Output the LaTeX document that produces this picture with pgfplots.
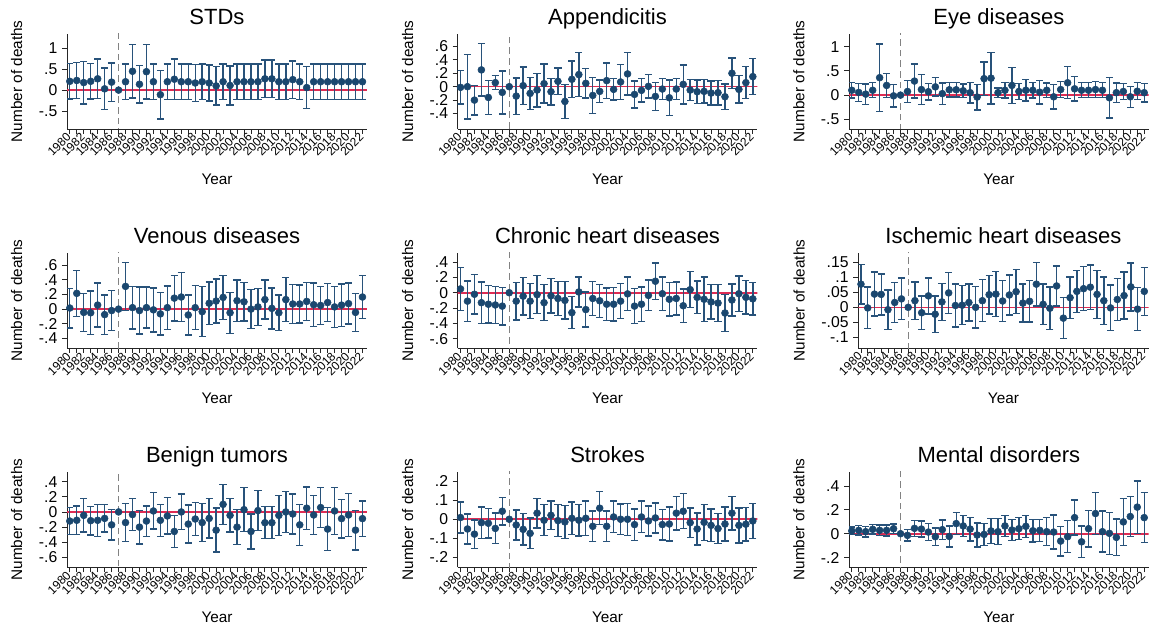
\documentclass[border=0pt]{standalone}
\usepackage{fontspec}
\setmainfont{Liberation Sans}
\usepackage{pgfplots}
\usepackage{pgfplotstable}
\pgfplotsset{compat=1.18}

\definecolor{ptnavy}{RGB}{26,71,111}
\definecolor{barnavy}{RGB}{40,82,122}
\definecolor{zeroline}{RGB}{222,44,84}
\definecolor{refgray}{RGB}{130,130,130}

% year, point estimate, half-width of the 95% CI (1987 is the base year)
\pgfplotstableread{
year est err
1980 0.21 0.42
1981 0.23 0.43
1982 0.18 0.51
1983 0.21 0.42
1984 0.27 0.47
1985 0.03 0.50
1986 0.19 0.46
1987 0 0
1988 0.20 0.42
1989 0.45 0.64
1990 0.14 0.45
1991 0.44 0.65
1992 0.20 0.42
1993 -0.11 0.58
1994 0.20 0.42
1995 0.26 0.48
1996 0.20 0.42
1997 0.20 0.42
1998 0.17 0.44
1999 0.20 0.42
2000 0.17 0.43
2001 0.10 0.46
2002 0.20 0.42
2003 0.11 0.47
2004 0.20 0.42
2005 0.20 0.42
2006 0.20 0.42
2007 0.20 0.42
2008 0.27 0.45
2009 0.27 0.45
2010 0.20 0.42
2011 0.20 0.42
2012 0.25 0.45
2013 0.20 0.42
2014 0.06 0.50
2015 0.20 0.42
2016 0.20 0.42
2017 0.20 0.42
2018 0.20 0.42
2019 0.20 0.42
2020 0.20 0.42
2021 0.20 0.42
2022 0.20 0.42
}\stds

\pgfplotstableread{
year est err
1980 -0.01 0.25
1981 0.00 0.48
1982 -0.20 0.22
1983 0.25 0.39
1984 -0.16 0.25
1985 0.06 0.105
1986 -0.085 0.32
1987 0 0
1988 -0.14 0.27
1989 0.015 0.28
1990 -0.10 0.24
1991 -0.05 0.25
1992 0.045 0.29
1993 -0.075 0.20
1994 0.08 0.20
1995 -0.22 0.25
1996 0.11 0.27
1997 0.18 0.33
1998 0.05 0.22
1999 -0.13 0.27
2000 -0.07 0.17
2001 0.09 0.265
2002 -0.04 0.16
2003 0.07 0.26
2004 0.19 0.315
2005 -0.115 0.20
2006 -0.055 0.175
2007 0.005 0.175
2008 -0.145 0.21
2009 -0.035 0.155
2010 -0.165 0.265
2011 -0.035 0.155
2012 0.035 0.29
2013 -0.05 0.155
2014 -0.075 0.175
2015 -0.07 0.175
2016 -0.095 0.18
2017 -0.09 0.18
2018 -0.15 0.19
2019 0.20 0.23
2020 -0.04 0.205
2021 0.06 0.24
2022 0.15 0.27
}\appendicitis

\pgfplotstableread{
year est err
1980 0.10 0.16
1981 0.055 0.185
1982 0.02 0.21
1983 0.10 0.155
1984 0.36 0.70
1985 0.20 0.25
1986 -0.015 0.23
1987 0 0
1988 0.075 0.23
1989 0.29 0.35
1990 0.115 0.31
1991 0.07 0.17
1992 0.17 0.19
1993 0.03 0.22
1994 0.11 0.15
1995 0.11 0.15
1996 0.09 0.14
1997 0.05 0.215
1998 -0.04 0.265
1999 0.34 0.345
2000 0.35 0.535
2001 0.05 0.095
2002 0.10 0.16
2003 0.20 0.37
2004 0.075 0.16
2005 0.10 0.22
2006 0.10 0.16
2007 0.06 0.24
2008 0.10 0.15
2009 -0.035 0.25
2010 0.115 0.165
2011 0.255 0.33
2012 0.13 0.25
2013 0.10 0.155
2014 0.10 0.155
2015 0.115 0.17
2016 0.10 0.155
2017 -0.055 0.415
2018 0.05 0.20
2019 0.075 0.165
2020 -0.035 0.215
2021 0.08 0.175
2022 0.05 0.19
}\eye

\pgfplotstableread{
year est err
1980 0.015 0.27
1981 0.215 0.315
1982 -0.045 0.26
1983 -0.05 0.295
1984 0.055 0.30
1985 -0.075 0.27
1986 -0.02 0.27
1987 0 0
1988 0.31 0.325
1989 0.02 0.29
1990 -0.02 0.32
1991 0.02 0.28
1992 -0.01 0.30
1993 -0.065 0.29
1994 0.02 0.295
1995 0.15 0.31
1996 0.165 0.335
1997 -0.08 0.275
1998 0.02 0.30
1999 -0.035 0.34
2000 0.08 0.29
2001 0.11 0.30
2002 0.16 0.30
2003 -0.05 0.28
2004 0.115 0.285
2005 0.10 0.26
2006 0.00 0.265
2007 0.03 0.25
2008 0.13 0.265
2009 0.01 0.28
2010 -0.05 0.245
2011 0.13 0.30
2012 0.07 0.27
2013 0.07 0.26
2014 0.105 0.26
2015 0.06 0.295
2016 0.05 0.26
2017 0.09 0.26
2018 0.03 0.28
2019 0.055 0.29
2020 0.075 0.28
2021 -0.045 0.26
2022 0.165 0.29
}\venous

\pgfplotstableread{
year est err
1980 0.05 0.28
1981 -0.11 0.265
1982 -0.02 0.26
1983 -0.13 0.27
1984 -0.15 0.245
1985 -0.16 0.245
1986 -0.175 0.245
1987 0 0
1988 -0.11 0.245
1989 -0.045 0.245
1990 -0.11 0.23
1991 -0.025 0.25
1992 -0.13 0.235
1993 -0.04 0.225
1994 -0.075 0.22
1995 -0.10 0.245
1996 -0.26 0.21
1997 0.01 0.195
1998 -0.22 0.23
1999 -0.075 0.225
2000 -0.105 0.215
2001 -0.15 0.21
2002 -0.15 0.22
2003 -0.11 0.23
2004 -0.015 0.22
2005 -0.175 0.23
2006 -0.15 0.225
2007 -0.035 0.20
2008 0.15 0.24
2009 -0.013 0.22
2010 -0.085 0.22
2011 -0.075 0.215
2012 -0.17 0.22
2013 0.04 0.235
2014 -0.06 0.215
2015 -0.085 0.29
2016 -0.12 0.225
2017 -0.135 0.24
2018 -0.265 0.24
2019 -0.095 0.21
2020 -0.013 0.23
2021 -0.06 0.22
2022 -0.08 0.21
}\chronic

\pgfplotstableread{
year est err
1980 0.077 0.066
1981 -0.002 0.069
1982 0.044 0.073
1983 0.043 0.068
1984 -0.008 0.065
1985 0.016 0.067
1986 0.028 0.069
1987 0 0
1988 0.022 0.062
1989 -0.018 0.055
1990 0.038 0.060
1991 -0.023 0.060
1992 0.018 0.061
1993 0.048 0.068
1994 0.006 0.071
1995 0.007 0.065
1996 0.016 0.062
1997 0.000 0.069
1998 0.022 0.070
1999 0.042 0.064
2000 0.044 0.075
2001 0.021 0.068
2002 0.041 0.067
2003 0.052 0.073
2004 0.014 0.063
2005 0.020 0.069
2006 0.077 0.072
2007 0.010 0.068
2008 -0.003 0.070
2009 0.071 0.066
2010 -0.036 0.068
2011 0.032 0.069
2012 0.053 0.070
2013 0.062 0.073
2014 0.067 0.074
2015 0.043 0.080
2016 0.022 0.079
2017 -0.002 0.076
2018 0.026 0.070
2019 0.039 0.078
2020 0.068 0.080
2021 -0.006 0.072
2022 0.053 0.080
}\ischemic

\pgfplotstableread{
year est err
1980 -0.12 0.18
1981 -0.11 0.19
1982 -0.045 0.22
1983 -0.115 0.19
1984 -0.11 0.21
1985 -0.085 0.18
1986 -0.17 0.20
1987 0 0
1988 -0.14 0.25
1989 -0.035 0.21
1990 -0.20 0.22
1991 -0.12 0.20
1992 0.013 0.24
1993 -0.11 0.21
1994 -0.053 0.24
1995 -0.257 0.21
1996 0.00 0.235
1997 -0.16 0.25
1998 -0.093 0.215
1999 -0.14 0.25
2000 -0.085 0.26
2001 -0.24 0.29
2002 0.10 0.265
2003 -0.045 0.22
2004 -0.20 0.23
2005 0.03 0.29
2006 -0.257 0.23
2007 0.018 0.265
2008 -0.142 0.21
2009 -0.142 0.21
2010 -0.045 0.265
2011 0.00 0.27
2012 -0.027 0.265
2013 -0.17 0.27
2014 0.05 0.28
2015 -0.04 0.26
2016 0.058 0.265
2017 -0.226 0.285
2018 0.013 0.31
2019 -0.088 0.255
2020 -0.04 0.28
2021 -0.24 0.26
2022 -0.088 0.235
}\benign

\pgfplotstableread{
year est err
1980 0.009 0.082
1981 -0.051 0.078
1982 -0.078 0.075
1983 -0.018 0.082
1984 -0.021 0.077
1985 -0.048 0.080
1986 0.042 0.073
1987 0 0
1988 -0.030 0.079
1989 -0.053 0.083
1990 -0.074 0.080
1991 0.032 0.078
1992 -0.005 0.081
1993 0.021 0.075
1994 -0.007 0.085
1995 -0.014 0.087
1996 0.005 0.086
1997 -0.005 0.082
1998 0.005 0.090
1999 -0.037 0.081
2000 0.058 0.086
2001 -0.037 0.081
2002 0.012 0.083
2003 0.000 0.080
2004 0.000 0.084
2005 -0.028 0.082
2006 0.012 0.083
2007 -0.009 0.078
2008 0.007 0.079
2009 -0.028 0.080
2010 -0.025 0.090
2011 0.032 0.088
2012 0.042 0.092
2013 -0.018 0.078
2014 -0.051 0.084
2015 -0.016 0.094
2016 -0.032 0.085
2017 -0.049 0.078
2018 -0.025 0.089
2019 0.032 0.088
2020 -0.032 0.092
2021 -0.026 0.088
2022 -0.009 0.092
}\strokes

\pgfplotstableread{
year est err
1980 0.023 0.032
1981 0.028 0.040
1982 0.017 0.045
1983 0.037 0.040
1984 0.028 0.045
1985 0.028 0.046
1986 0.042 0.040
1987 0 0
1988 -0.014 0.048
1989 0.045 0.068
1990 0.039 0.068
1991 0.014 0.073
1992 -0.025 0.072
1993 0.034 0.082
1994 -0.023 0.088
1995 0.085 0.093
1996 0.065 0.090
1997 0.039 0.099
1998 -0.011 0.101
1999 -0.006 0.092
2000 0.023 0.104
2001 0.017 0.110
2002 0.065 0.089
2003 0.031 0.087
2004 0.042 0.092
2005 0.062 0.093
2006 0.025 0.094
2007 0.028 0.092
2008 0.017 0.117
2009 0.014 0.143
2010 -0.062 0.124
2011 -0.025 0.135
2012 0.135 0.147
2013 -0.068 0.131
2014 0.042 0.152
2015 0.169 0.177
2016 0.017 0.172
2017 0.003 0.175
2018 -0.031 0.154
2019 0.099 0.197
2020 0.144 0.169
2021 0.223 0.220
2022 0.135 0.211
}\mental

\pgfplotsset{
  every axis title shift=0pt,
  evpanel/.style={
    scale only axis,
    height=71.5pt,
    xmin=1979.6, xmax=2022.65,
    axis lines*=left,
    axis line style={-, line width=0.65pt, black!85},
    tick align=outside,
    every tick/.style={line width=0.65pt, black!85},
    major tick length=3.75pt, minor tick length=3.75pt,
    xtick={1980,1982,...,2022},
    minor xtick={1981,1983,...,2021},
    xticklabels={1980,1982,1984,1986,1988,1990,1992,1994,1996,1998,2000,2002,2004,2006,2008,2010,2012,2014,2016,2018,2020,2022},
    xticklabel style={rotate=45, anchor=east, font=\fontsize{9}{10}\selectfont, inner sep=1pt},
    yticklabel style={font=\fontsize{11.8}{12}\selectfont},
    xlabel={Year},
    ylabel={Number of deaths},
    label style={font=\fontsize{11.5}{12}\selectfont},
    xlabel style={at={(axis description cs:0.5,0)}, anchor=center, yshift=-37.5pt},
    ylabel style={at={(axis description cs:-0.1676,0.5)}, anchor=center},
    title style={at={(axis description cs:0.5,1)}, anchor=base, yshift=6.9pt,
      font=\fontsize{16.5}{18}\selectfont},
    clip=true,
  },
  zeroref/.style={zeroline, line width=1.2pt, forget plot},
  baseyear/.style={refgray, line width=0.8pt, dash pattern=on 5pt off 3pt, forget plot},
  est/.style={only marks, mark=*, mark size=2.6pt, color=ptnavy,
    error bars/.cd, y dir=both, y explicit,
    error bar style={line width=1.05pt, color=barnavy},
    error mark options={rotate=90, line width=1.05pt, color=barnavy, mark size=2.7pt}},
}

% one event-study panel: reference lines, then estimates with CIs
\newcommand{\panelplots}[1]{%
  \addplot[zeroref] coordinates {(1970,0) (2030,0)};
  \addplot[baseyear] coordinates {(1987,-10) (1987,10)};
  \addplot[est] table[x=year, y=est, y error=err] {#1};
}

\begin{document}
\begin{tikzpicture}
\useasboundingbox (0,0) rectangle (862.5pt,472.5pt);

% ---- row 1
\begin{axis}[evpanel, width=225pt, at={(50.25pt,375.75pt)}, anchor=south west,
  title={STDs}, ymin=-0.93, ymax=1.35,
  ytick={-0.5,0,0.5,1}, yticklabels={-.5,0,.5,1}]
\panelplots{\stds}
\end{axis}

\begin{axis}[evpanel, width=224.7pt, at={(343.3pt,375.75pt)}, anchor=south west,
  title={Appendicitis}, ymin=-0.63, ymax=0.79,
  ytick={-0.4,-0.2,0,0.2,0.4,0.6}, yticklabels={-.4,-.2,0,.2,.4,.6}]
\panelplots{\appendicitis}
\end{axis}

\begin{axis}[evpanel, width=224.8pt, at={(636.75pt,375.75pt)}, anchor=south west,
  title={Eye diseases}, ymin=-0.70, ymax=1.27,
  ytick={-0.5,0,0.5,1}, yticklabels={-.5,0,.5,1}]
\panelplots{\eye}
\end{axis}

% ---- row 2
\begin{axis}[evpanel, width=225pt, at={(50.25pt,211.3pt)}, anchor=south west,
  title={Venous diseases}, ymin=-0.534, ymax=0.767,
  ytick={-0.4,-0.2,0,0.2,0.4,0.6}, yticklabels={-.4,-.2,0,.2,.4,.6}]
\panelplots{\venous}
\end{axis}

\begin{axis}[evpanel, width=224.7pt, at={(343.3pt,211.3pt)}, anchor=south west,
  title={Chronic heart diseases}, ymin=-0.725, ymax=0.52,
  ytick={-0.6,-0.4,-0.2,0,0.2,0.4}, yticklabels={-.6,-.4,-.2,0,.2,.4}]
\panelplots{\chronic}
\end{axis}

\begin{axis}[evpanel, width=217.8pt, at={(643.7pt,211.3pt)}, anchor=south west,
  title={Ischemic heart diseases}, ymin=-0.136, ymax=0.181,
  ylabel style={at={(axis description cs:-0.2034,0.5)}},
  ytick={-0.1,-0.05,0,0.05,0.1,0.15}, yticklabels={-.1,-.05,0,.05,.1,.15}]
\panelplots{\ischemic}
\end{axis}

% ---- row 3
\begin{axis}[evpanel, width=225pt, at={(50.25pt,47pt)}, anchor=south west,
  title={Benign tumors}, ymin=-0.73, ymax=0.527,
  ytick={-0.6,-0.4,-0.2,0,0.2,0.4}, yticklabels={-.6,-.4,-.2,0,.2,.4}]
\panelplots{\benign}
\end{axis}

\begin{axis}[evpanel, width=224.7pt, at={(343.3pt,47pt)}, anchor=south west,
  title={Strokes}, ymin=-0.252, ymax=0.248,
  ytick={-0.2,-0.1,0,0.1,0.2}, yticklabels={-.2,-.1,0,.1,.2}]
\panelplots{\strokes}
\end{axis}

\begin{axis}[evpanel, width=224.8pt, at={(636.75pt,47pt)}, anchor=south west,
  title={Mental disorders}, ymin=-0.282, ymax=0.518,
  ytick={-0.2,0,0.2,0.4}, yticklabels={-.2,0,.2,.4}]
\panelplots{\mental}
\end{axis}
\end{tikzpicture}
\end{document}
